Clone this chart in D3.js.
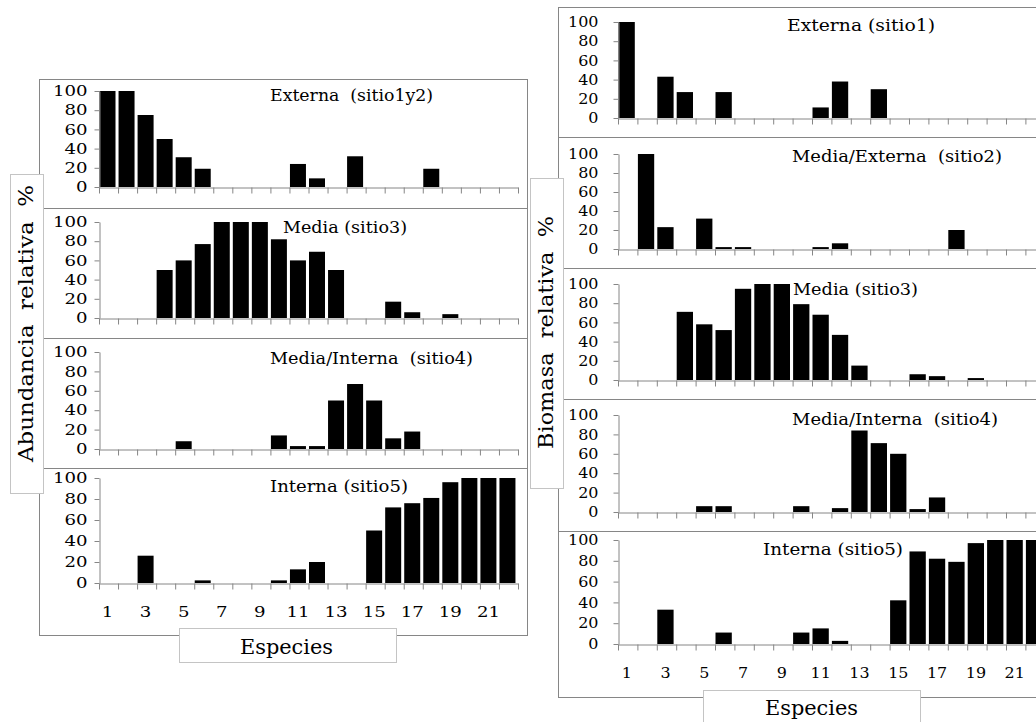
<!DOCTYPE html>
<html><head><meta charset="utf-8">
<script src="https://cdn.jsdelivr.net/npm/d3@7"></script>
<style>body{margin:0;background:#fff;} svg{display:block;} text{white-space:pre;}</style>
</head><body>
<svg id="c" width="1036" height="722"></svg>
<script>
// ---------- data ----------
const species = [1,2,3,4,5,6,7,8,9,10,11,12,13,14,15,16,17,18,19,20,21,22];
const yTicks = [0,20,40,60,80,100];
const xTickLabels = [1,3,5,7,9,11,13,15,17,19,21];

// Abundancia relativa (%)
const abExterna12   = [100,100,75,50,31,19,0,0,0,0,24,9,0,32,0,0,0,19,0,0,0,0];
const abMedia3      = [0,0,0,50,60,77,100,100,100,82,60,69,50,0,0,17,6,0,4,0,0,0];
const abMedInt4     = [0,0,0,0,8,0,0,0,0,14,3,3,50,67,50,11,18,0,0,0,0,0];
const abInterna5    = [0,0,26,0,0,2.5,0,0,0,2.5,13,20,0,0,50,72,76,81,96,100,100,100];

// Biomasa relativa (%)
const biExterna1    = [100,0,43,27,0,27,0,0,0,0,11,38,0,30,0,0,0,0,0,0,0,0];
const biMedExt2     = [0,100,23,0,32,2,2,0,0,0,2,6,0,0,0,0,0,20,0,0,0,0];
const biMedia3      = [0,0,0,71,58,52,95,100,100,79,68,47,15,0,0,6,4,0,2,0,0,0];
const biMedInt4     = [0,0,0,0,6,6,0,0,0,6,0,4,84,71,60,3,15,0,0,0,0,0];
const biInterna5    = [0,0,33,0,0,11,0,0,0,11,15,3,0,0,42,89,82,79,97,100,100,100];

const leftTitles  = ["Externa  (sitio1y2)","Media (sitio3)","Media/Interna  (sitio4)","Interna (sitio5)"];
const rightTitles = ["Externa (sitio1)","Media/Externa  (sitio2)","Media (sitio3)","Media/Interna  (sitio4)","Interna (sitio5)"];

// ---------- layout ----------
const FONT = "'DejaVu Serif', 'Liberation Serif', serif";
const AXIS = "#868686";
const svg = d3.select("#c");

const leftLayout = {
  boxX0: 39.5, boxX1: 527.5, ax0: 99, ax1: 518, tickSx: 1.25, labPad: 12,
  xLabY: 617,
  panels: [
    {top:79.5, bot:208.5, y0:187, y100:91, data:abExterna12, title:leftTitles[0], tx:270, tw:163, ty:101},
    {top:208.5, bot:338.5, y0:318, y100:222, data:abMedia3, title:leftTitles[1], tx:283, tw:124, ty:233},
    {top:338.5, bot:468.5, y0:449, y100:352, data:abMedInt4, title:leftTitles[2], tx:270, tw:203, ty:364},
    {top:468.5, bot:635.5, y0:583, y100:478, data:abInterna5, title:leftTitles[3], tx:270, tw:138, ty:492}
  ]
};
const rightLayout = {
  boxX0: 558.5, boxX1: 1070, ax0: 618, ax1: 1044.8, tickSx: 1.1, labPad: 20,
  xLabY: 678,
  panels: [
    {top:7.5, bot:137.5, y0:118, y100:22, data:biExterna1, title:rightTitles[0], tx:787, tw:148, ty:31},
    {top:137.5, bot:268.5, y0:249, y100:154, data:biMedExt2, title:rightTitles[1], tx:792, tw:210, ty:162},
    {top:268.5, bot:399.5, y0:380, y100:284, data:biMedia3, title:rightTitles[2], tx:793, tw:125, ty:295},
    {top:399.5, bot:531.5, y0:512, y100:415, data:biMedInt4, title:rightTitles[3], tx:792, tw:206, ty:425},
    {top:531.5, bot:697.5, y0:644, y100:540, data:biInterna5, title:rightTitles[4], tx:763, tw:140, ty:555}
  ]
};

function drawGroup(L) {
  const x = d3.scaleBand().domain(species).range([L.ax0, L.ax1]).padding(0);
  const xl = d3.scaleLinear().domain([0.5, species.length + 0.5]).range([L.ax0, L.ax1]);
  const bounds = species.map(s => s - 0.5).concat([species.length + 0.5]);
  const bw = x.bandwidth();
  L.panels.forEach((P, i) => {
    const g = svg.append("g");
    g.append("rect").attr("x", L.boxX0).attr("y", P.top)
      .attr("width", L.boxX1 - L.boxX0).attr("height", P.bot - P.top)
      .attr("fill", "#fff").attr("stroke", AXIS).attr("stroke-width", 1);
    const y = d3.scaleLinear().domain([0, 100]).range([P.y0, P.y100]);
    // bars
    g.selectAll("rect.bar").data(species.map((s, k) => ({s, v: P.data[k]})).filter(d => d.v > 0))
      .join("rect").attr("class", "bar")
      .attr("x", d => x(d.s) + 0.5).attr("width", bw * 0.84)
      .attr("y", d => y(d.v)).attr("height", d => y(0) - y(d.v))
      .attr("fill", "#000");
    // y axis
    const ya = g.append("g").attr("transform", `translate(${Math.round(L.ax0) + 0.5},0)`)
      .call(d3.axisLeft(y).tickValues(yTicks).tickSize(5).tickSizeOuter(0));
    ya.select(".domain").attr("stroke", AXIS);
    ya.selectAll(".tick line").attr("stroke", AXIS);
    ya.selectAll(".tick text").attr("font-family", FONT).attr("font-size", 14.5).attr("fill", "#000")
      .attr("x", -L.labPad / L.tickSx).attr("transform", `scale(${L.tickSx},1)`);
    // x axis
    const xa = g.append("g").attr("transform", `translate(0,${Math.round(P.y0) + 0.5})`)
      .call(d3.axisBottom(xl).tickValues(bounds).tickSize(6).tickSizeOuter(0).tickFormat(""));
    xa.select(".domain").attr("stroke", AXIS);
    xa.selectAll(".tick line").attr("stroke", AXIS);
    // title
    g.append("text").attr("x", P.tx).attr("y", P.ty).text(P.title)
      .attr("font-family", FONT).attr("font-size", 16).attr("fill", "#000")
      .attr("textLength", P.tw).attr("lengthAdjust", "spacingAndGlyphs");
    // x labels on bottom panel
    if (i === L.panels.length - 1) {
      g.selectAll("text.xl").data(xTickLabels).join("text").attr("class", "xl")
        .attr("transform", d => `translate(${x(d) + bw / 2 - 1},${L.xLabY}) scale(${L.tickSx},1)`)
        .attr("text-anchor", "middle").attr("font-family", FONT).attr("font-size", 14.5)
        .attr("fill", "#000").text(d => d);
    }
  });
}
drawGroup(leftLayout);
drawGroup(rightLayout);

function labelBox(x0, y0, w, h) {
  svg.append("rect").attr("x", x0 + 0.5).attr("y", y0 + 0.5).attr("width", w).attr("height", h)
    .attr("fill", "#fff").attr("stroke", "#c4c4c4").attr("stroke-width", 1);
}
// y labels
labelBox(10, 174, 33, 319);
svg.append("text").attr("transform", "translate(33,323.5) rotate(-90)")
  .attr("text-anchor", "middle").attr("font-family", FONT).attr("font-size", 20)
  .attr("textLength", 277).attr("lengthAdjust", "spacingAndGlyphs")
  .text("Abundancia  relativa  %");
labelBox(530, 178, 33, 310);
svg.append("text").attr("transform", "translate(553,332.5) rotate(-90)")
  .attr("text-anchor", "middle").attr("font-family", FONT).attr("font-size", 20)
  .attr("textLength", 233).attr("lengthAdjust", "spacingAndGlyphs")
  .text("Biomasa  relativa  %");
// x labels
labelBox(179, 628, 217, 34);
svg.append("text").attr("x", 240).attr("y", 654).attr("font-family", FONT).attr("font-size", 20)
  .attr("textLength", 93).attr("lengthAdjust", "spacingAndGlyphs").text("Especies");
labelBox(703, 690, 217, 40);
svg.append("text").attr("x", 765).attr("y", 715).attr("font-family", FONT).attr("font-size", 20)
  .attr("textLength", 93).attr("lengthAdjust", "spacingAndGlyphs").text("Especies");
</script>
</body></html>
